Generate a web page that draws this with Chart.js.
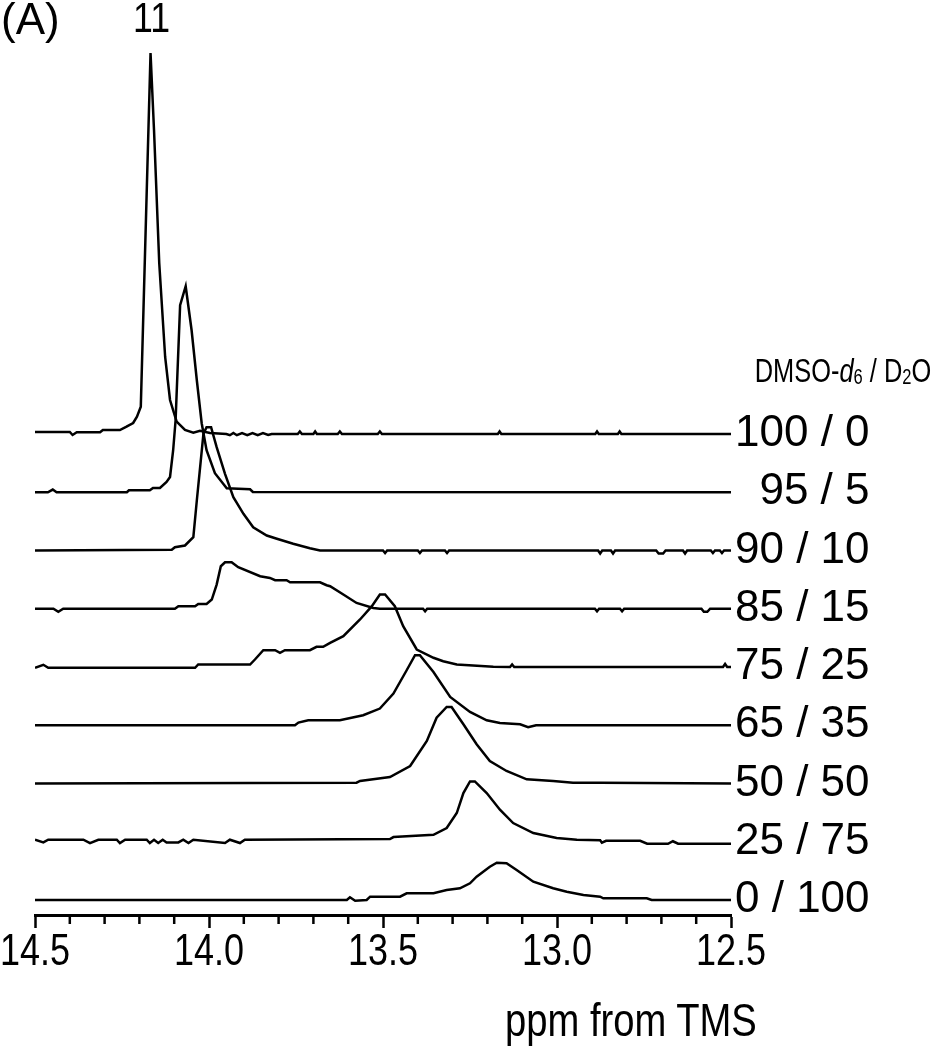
<!DOCTYPE html>
<html>
<head>
<meta charset="utf-8">
<script src="https://cdn.jsdelivr.net/npm/chart.js@4.4.1/dist/chart.umd.min.js"></script>
<style>
  body { margin: 0; background: #fff; }
  #wrap { position: relative; width: 932px; height: 1050px; font-family: 'Liberation Sans', Arial, sans-serif; color: #000; overflow: hidden; }
  .txt { position: absolute; white-space: nowrap; line-height: 1; }
  .txt sub { font-size: 0.65em; vertical-align: -0.08em; line-height: 0; }
</style>
</head>
<body>
<div id="wrap">
  <canvas id="nmr" width="932" height="1050"></canvas>
  <div class="txt" style="left:1px; top:-3px; font-size:44px;">(A)</div>
  <div class="txt" style="left:133px; top:-3px; font-size:42px; transform:scaleX(0.85); transform-origin:left;">11</div>
  <div class="txt" style="right:1px; top:354px; font-size:33px; transform:scaleX(0.77); transform-origin:right;">DMSO-<i>d</i><sub>6</sub> / D<sub>2</sub>O</div>
  <div class="txt" style="left:505px; top:997px; font-size:46px; transform:scaleX(0.83); transform-origin:left;">ppm from TMS</div>
</div>
<script>
// solvent ratio DMSO-d6 / D2O, top to bottom
const mixtures = ['100 / 0', '  95 / 5', '90 / 10', '85 / 15', '75 / 25', '65 / 35', '50 / 50', '25 / 75', '0 / 100'];

// x axis ticks (ppm)
const majorTicks = [14.5, 14.0, 13.5, 13.0, 12.5];
const minorTicks = [14.4, 14.3, 14.2, 14.1, 13.9, 13.8, 13.7, 13.6, 13.4, 13.3, 13.2, 13.1, 12.9, 12.8, 12.7, 12.6];

// spectra: chemical shift (ppm) and intensity above each trace's baseline
const ppm100_0 = [14.5, 14.40, 14.392, 14.38, 14.313, 14.305, 14.256, 14.237, 14.218, 14.207, 14.196, 14.168, 14.158, 14.143, 14.126, 14.112, 14.093, 14.069, 14.045, 14.026, 13.997,
  13.95, 13.94, 13.93, 13.92, 13.905, 13.89, 13.875, 13.86, 13.845, 13.83, 13.82, 13.745, 13.739, 13.733, 13.70, 13.695, 13.69, 13.63, 13.624, 13.618, 13.515, 13.509, 13.503,
  13.17, 13.165, 13.16, 12.89, 12.885, 12.88, 12.825, 12.82, 12.815, 12.5];
const int100_0 = [2, 2, -1, 1.7, 1.7, 4, 4, 7.3, 11, 17.3, 27.3, 381, 304, 171, 77, 34, 12.3, 4, 1.3, 3.3, 1,
  0, -1.2, 1, -1.2, 1, -1.2, 1, -1.2, 1, -1, 0, 0, 2.5, 0, 0, 2.5, 0, 0, 2.5, 0, 0, 2.5, 0,
  0, 2.5, 0, 0, 2.5, 0, 0, 2.5, 0, 0];

const ppm95_5 = [14.5, 14.463, 14.449, 14.438, 14.236, 14.23, 14.17, 14.161, 14.141, 14.122, 14.112, 14.103, 14.096, 14.083, 14.067, 14.05, 14.035, 14.021, 14.007, 13.983, 13.949, 13.882, 13.874, 12.5];
const int95_5 = [0, 0, 2.7, 0, 0, 2, 2, 4.3, 4.3, 10.3, 15.3, 42, 72, 187, 206, 162, 112, 69, 42, 19, 4, 3, 0.3, 0];

const ppm90_10 = [14.5, 14.107, 14.098, 14.069, 14.045, 14.035, 14.016, 14.007, 13.994, 13.978, 13.954, 13.93, 13.901, 13.873, 13.834, 13.805, 13.758, 13.71, 13.681,
  13.5, 13.494, 13.488, 13.4, 13.394, 13.388, 13.322, 13.316, 13.31, 12.882, 12.876, 12.87, 12.845, 12.839, 12.833, 12.715, 12.708, 12.695, 12.688,
  12.638, 12.632, 12.626, 12.558, 12.552, 12.546, 12.532, 12.526, 12.52, 12.5];
const int90_10 = [0, 0.7, 3.3, 5, 13.3, 50, 116.7, 123.3, 123.3, 103.3, 76.7, 53.3, 36.7, 23.3, 15, 11.7, 6.7, 2.3, 0,
  0, -2.5, 0, 0, -2.5, 0, 0, -2.5, 0, 0, -3, 0, 0, -3, 0, 0, -3, -3, 0,
  0, -3, 0, 0, -2.5, 0, 0, -2.5, 0, 0];

const ppm85_15 = [14.5, 14.447, 14.433, 14.419, 14.098, 14.088, 14.04, 14.031, 14.007, 13.992, 13.978, 13.966, 13.954, 13.935, 13.916, 13.853, 13.825, 13.81, 13.777, 13.767, 13.681, 13.662, 13.652, 13.614, 13.576, 13.528, 13.509,
  13.385, 13.379, 13.373, 12.891, 12.885, 12.879, 12.819, 12.813, 12.807, 12.585, 12.578, 12.568, 12.56, 12.5];
const int85_15 = [0, 0, -3, 0, 0, 2.5, 2.5, 4.8, 4.8, 9.2, 24.2, 42.5, 46.5, 46.5, 41.5, 32.5, 30.8, 28.5, 28.5, 26.5, 26.5, 23.5, 22.5, 14.2, 5.8, 0.8, 0,
  0, -2.5, 0, 0, -2.5, 0, 0, -2.5, 0, 0, -3, -3, 0, 0];

const ppm75_25 = [14.5, 14.476, 14.462, 14.04, 14.031, 13.882, 13.868, 13.844, 13.81, 13.796, 13.782, 13.71, 13.691, 13.672, 13.652, 13.614, 13.566, 13.532, 13.509, 13.494, 13.466, 13.442, 13.403, 13.355, 13.327, 13.288, 13.183,
  13.135, 13.129, 13.123, 12.523, 12.517, 12.511, 12.5];
const int75_25 = [-0.8, 2.2, -0.8, -0.8, 2.5, 2.5, 7.5, 16.8, 16.8, 14.2, 16.8, 16.8, 20.2, 20.2, 24.2, 30.8, 47.5, 60.8, 72.5, 72.5, 60.8, 40.8, 17.5, 9.2, 5.8, 2.5, 0.2,
  0, 2.5, 0, 0, 3, 0, 0];

const ppm65_35 = [14.5, 13.753, 13.743, 13.715, 13.624, 13.557, 13.509, 13.47, 13.432, 13.408, 13.394, 13.355, 13.307, 13.25, 13.202, 13.164, 13.106, 13.083, 13.06, 12.5];
const int65_35 = [0, 0, 2.7, 5, 5, 10, 16.7, 31.7, 55, 70, 70, 53.3, 28.3, 13.3, 5, 2.3, 1, -2, 0, 0];

const ppm50_50 = [14.5, 13.576, 13.566, 13.48, 13.422, 13.374, 13.346, 13.317, 13.303, 13.269, 13.231, 13.193, 13.145, 13.087, 13.011, 12.954, 12.876, 12.5];
const int50_50 = [0, 0.8, 2.5, 6.5, 17.5, 42.5, 65.8, 76.5, 76.5, 59.2, 39.2, 22.5, 12.5, 4.2, 2.5, 0.8, 0.8, 0];

const ppm25_75 = [14.5, 14.476, 14.462, 14.361, 14.342, 14.318, 14.265, 14.256, 14.241, 14.179, 14.17, 14.158, 14.146, 14.133, 14.122, 14.088, 14.074, 14.059, 14.045, 13.954, 13.94, 13.911, 13.897,
  13.48, 13.47, 13.355, 13.317, 13.288, 13.269, 13.25, 13.236, 13.202, 13.164, 13.126, 13.068, 13.001, 12.943, 12.876, 12.871, 12.859, 12.761, 12.741, 12.681, 12.667, 12.652, 12.5];
const int25_75 = [2, -0.7, 2, 2, -1.3, 2, 2, -1.3, 2, 2, -1.3, 2, -1.3, 2, -0.7, -0.7, 2, -1.3, 2, -1.3, 2, -1.3, 2,
  2.7, 4.7, 7, 13.7, 28.7, 48.7, 60.3, 60.3, 48.7, 32, 18.7, 8.7, 3.7, 2, 1.5, -1, 1, 1, -2, -2, 0.5, -2, -2];

const ppm0_100 = [14.5, 13.604, 13.595, 13.58, 13.547, 13.537, 13.451, 13.432, 13.355, 13.317, 13.279, 13.25, 13.231, 13.193, 13.173, 13.145, 13.116, 13.068, 13.011, 12.972, 12.924, 12.876, 12.867, 12.742, 12.728, 12.5];
const int0_100 = [0, 0, 2.7, -0.7, 0, 3.3, 3.3, 6.7, 6.7, 10, 11.7, 16.7, 23.3, 33.3, 37.3, 36.7, 30, 18.3, 11.7, 8.3, 5, 3.3, 1.7, 1.7, 0, 0];

const spectra = [
  [ppm100_0, int100_0], [ppm95_5, int95_5], [ppm90_10, int90_10], [ppm85_15, int85_15], [ppm75_25, int75_25],
  [ppm65_35, int65_35], [ppm50_50, int50_50], [ppm25_75, int25_75], [ppm0_100, int0_100]
];

// vertical stacking of the traces
const step = 58.25;
const offsets = mixtures.map((m, i) => 15 + (mixtures.length - 1 - i) * step);

const datasets = spectra.map(([xs, ys], i) => ({
  label: mixtures[i],
  data: xs.map((x, k) => ({ x: x, y: offsets[i] + ys[k] })),
  borderColor: '#000',
  borderWidth: 2.5,
  pointRadius: 0,
  tension: 0,
  fill: false
}));

const font = "'Liberation Sans', Arial, sans-serif";

// minor ticks and the narrow ppm labels under the x axis
const xAxisExtras = {
  id: 'xAxisExtras',
  afterDraw(chart) {
    const xs = chart.scales.x;
    const ctx = chart.ctx;
    const y0 = chart.chartArea.bottom;
    ctx.save();
    ctx.strokeStyle = '#000';
    ctx.lineWidth = 2.5;
    minorTicks.forEach(v => {
      const px = xs.getPixelForValue(v);
      ctx.beginPath();
      ctx.moveTo(px, y0);
      ctx.lineTo(px, y0 + 9);
      ctx.stroke();
    });
    ctx.fillStyle = '#000';
    ctx.font = '45px ' + font;
    ctx.textAlign = 'center';
    ctx.textBaseline = 'alphabetic';
    majorTicks.forEach(v => {
      ctx.save();
      ctx.translate(xs.getPixelForValue(v), y0 + 50);
      ctx.scale(0.8, 1);
      ctx.fillText(v.toFixed(1), 0, 0);
      ctx.restore();
    });
    ctx.restore();
  }
};

new Chart(document.getElementById('nmr'), {
  type: 'line',
  data: { datasets: datasets },
  options: {
    responsive: false,
    animation: false,
    devicePixelRatio: 1,
    layout: { padding: { top: 40, left: 35, right: 0, bottom: 0 } },
    plugins: { legend: { display: false }, tooltip: { enabled: false } },
    scales: {
      x: {
        type: 'linear',
        reverse: true,
        min: 12.5,
        max: 14.5,
        afterBuildTicks: (scale) => { scale.ticks = majorTicks.map(v => ({ value: v })); },
        afterFit: (scale) => { scale.height = 135; scale.paddingLeft = 0; scale.paddingRight = 0; },
        ticks: { display: false, autoSkip: false, maxRotation: 0 },
        grid: { drawOnChartArea: false, drawTicks: true, tickLength: 13, tickWidth: 2.5, tickColor: '#000' },
        border: { display: true, color: '#000', width: 3 }
      },
      y: {
        type: 'linear',
        position: 'right',
        min: 0,
        max: 875,
        afterBuildTicks: (scale) => { scale.ticks = offsets.map(v => ({ value: v })); },
        afterFit: (scale) => { scale.width = 201; scale.paddingTop = 0; scale.paddingBottom = 0; },
        ticks: {
          autoSkip: false,
          padding: 4,
          color: '#000',
          font: { family: font, size: 44 },
          callback: (v, i) => mixtures[i]
        },
        grid: { display: false, drawTicks: false },
        border: { display: false }
      }
    }
  },
  plugins: [xAxisExtras]
});
</script>
</body>
</html>
